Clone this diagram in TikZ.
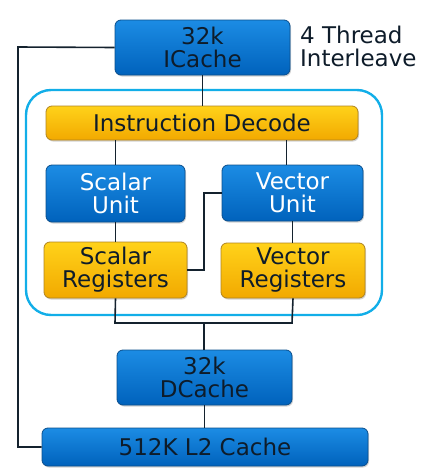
\documentclass[tikz,border=0pt]{standalone}
\usepackage{fontspec}
\setmainfont{DejaVu Sans}
\usetikzlibrary{shadows}
\definecolor{bluetop}{HTML}{1C8CE4}
\definecolor{bluebot}{HTML}{0062BC}
\definecolor{blueedge}{HTML}{0A4E8C}
\definecolor{yeltop}{HTML}{FFD21A}
\definecolor{yelbot}{HTML}{F2A900}
\definecolor{yeledge}{HTML}{B08420}
\definecolor{ink}{HTML}{0E1C2A}
\definecolor{frame}{HTML}{12AEE8}
\definecolor{wire}{HTML}{14222E}
\tikzset{
  x=1pt, y=-1pt,
  box/.style={rounded corners=6pt, inner sep=0pt, align=center,
    font=\fontsize{23}{23}\selectfont, text=ink, line width=0.8pt,
    drop shadow={shadow xshift=1pt, shadow yshift=-1.5pt, opacity=0.35}},
  bluebox/.style={box, draw=blueedge, top color=bluetop, bottom color=bluebot},
  yelbox/.style={box, draw=yeledge, top color=yeltop, bottom color=yelbot},
  wire/.style={draw=wire, line width=1.6pt},
}
\begin{document}
\begin{tikzpicture}
\useasboundingbox (0,0) rectangle (433,474);
% outer frame
\draw[frame, line width=2.4pt, rounded corners=25pt] (26,90) rectangle (382,315);
% nodes
\node[bluebox, minimum width=175pt, minimum height=55pt] (ic) at (202.5,47.5) {32k\\ICache};
\node[anchor=west, align=left, font=\fontsize{23}{23}\selectfont, text=ink, inner sep=0pt] (tl) at (300,46) {4 Thread\\Interleave};
\node[yelbox, minimum width=312pt, minimum height=34pt] (dec) at (202,123) {Instruction Decode};
\node[bluebox, text=white, minimum width=139pt, minimum height=57pt] (su) at (115.5,193.5) {Scalar\\Unit};
\node[bluebox, text=white, minimum width=141pt, minimum height=56pt] (vu) at (292.5,193) {Vector\\Unit};
\node[yelbox, minimum width=143pt, minimum height=56pt] (sr) at (115.5,270) {Scalar\\Registers};
\node[yelbox, minimum width=144pt, minimum height=55pt] (vr) at (293,270.5) {Vector\\Registers};
\node[bluebox, minimum width=175pt, minimum height=55pt] (dc) at (204.5,377.5) {32k\\DCache};
\node[bluebox, minimum width=326pt, minimum height=38pt] (l2) at (205,447) {512K L2 Cache};
% junction coordinates
\coordinate (jl) at (115,323);
\coordinate (jr) at (292,323);
\coordinate (jm) at (204,323);
\coordinate (kx) at (204,270);
\coordinate (left) at (18,47);
% connectors
\draw[wire] (ic.south) -- (ic.south |- dec.north);
\draw[wire] (su.north) -- (su.north |- dec.south);
\draw[wire] ([xshift=-6pt]vu.north) -- ([xshift=-6pt]vu.north |- dec.south);
\draw[wire] (su.south) -- (su.south |- sr.north);
\draw[wire] (vu.south) -- (vu.south |- vr.north);
\draw[wire] (sr.east) -- (kx) -- (kx |- vu.west) -- (vu.west);
\draw[wire] (sr.south) -- (jl) -- (jr) -- (vr.south);
\draw[wire] (jm) -- (jm |- dc.north);
\draw[wire] (dc.south) -- (dc.south |- l2.north);
\draw[wire] (ic.west) -- (left) -- (left |- l2.west) -- (l2.west);
\end{tikzpicture}
\end{document}
